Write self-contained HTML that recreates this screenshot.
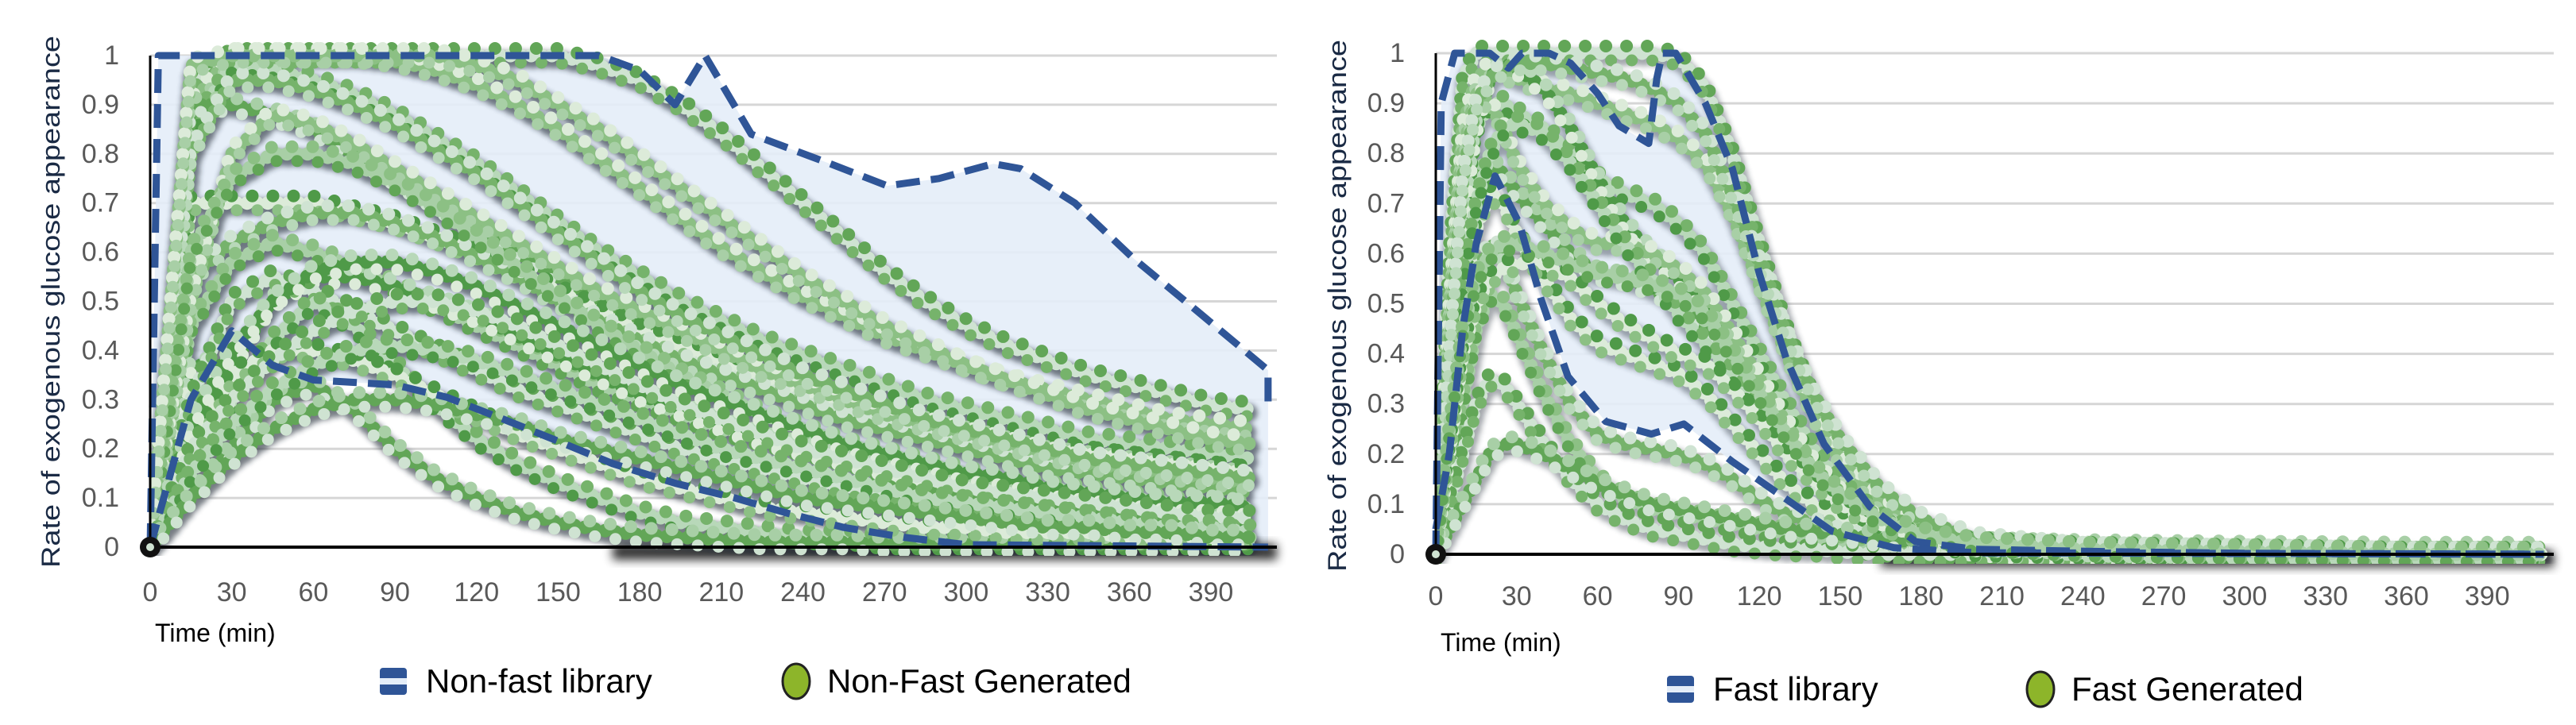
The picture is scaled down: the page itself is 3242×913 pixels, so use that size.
<!DOCTYPE html>
<html><head><meta charset="utf-8"><style>
html,body{margin:0;padding:0;background:#fff;}
svg{display:block;}
text{font-family:"Liberation Sans Narrow","Liberation Sans",sans-serif;}
</style></head><body>
<svg id="root" width="3242" height="913" viewBox="0 0 3242 913" xmlns="http://www.w3.org/2000/svg">
<defs>
<filter id="blur" x="-5%" y="-5%" width="110%" height="110%"><feGaussianBlur stdDeviation="3.5"/></filter>
<filter id="blur2" x="-5%" y="-50%" width="110%" height="200%"><feGaussianBlur stdDeviation="6"/></filter>
<clipPath id="clipL"><rect x="189" y="40" width="1420" height="660"/></clipPath>
<clipPath id="clipR"><rect x="1807" y="40" width="1410" height="670"/></clipPath>
</defs>
<g id="left"></g>
<g id="right"></g>
</svg>
<script>
// ---------- DATA ----------
const yTicks = [0,0.1,0.2,0.3,0.4,0.5,0.6,0.7,0.8,0.9,1];
const yTickLabels = ["0","0.1","0.2","0.3","0.4","0.5","0.6","0.7","0.8","0.9","1"];
const xTicks = [0,30,60,90,120,150,180,210,240,270,300,330,360,390];
const xTickLabels = ["0","30","60","90","120","150","180","210","240","270","300","330","360","390"];

// Non-fast library envelope
const nfUpperT = [0,3,20,165,180,193,204,221,250,271,290,310,320,340,361,385,411,411];
const nfUpperV = [0,1,1,1,0.97,0.9,1,0.84,0.78,0.735,0.75,0.78,0.77,0.7,0.59,0.48,0.36,0.28];
const nfLowerT = [0,5,15,30,45,60,90,109,130,148,170,193,215,235,255,277,300,411];
const nfLowerV = [0,0.1,0.3,0.44,0.37,0.34,0.33,0.305,0.26,0.22,0.17,0.13,0.1,0.068,0.04,0.02,0.005,0];

// Non-fast generated curves (values at nfTimes)
const nfTimes = [0,15,30,45,60,75,90,105,120,135,150,165,180,195,210,225,240,255,270,285,300,315,330,345,360,375,390,405];
const nfA = [0,0.95,1,1,1,1,1,1,1,1,1,0.98,0.95,0.9,0.84,0.77,0.7,0.63,0.56,0.5,0.45,0.41,0.38,0.35,0.33,0.31,0.29,0.28];
const nfB = [0,0.9,1,1,1,1,0.99,0.97,0.94,0.9,0.85,0.79,0.73,0.67,0.61,0.56,0.51,0.47,0.43,0.4,0.37,0.34,0.32,0.3,0.28,0.26,0.25,0.24];
const nfC = [0,0.85,0.98,0.97,0.95,0.92,0.88,0.83,0.78,0.72,0.66,0.6,0.55,0.5,0.46,0.42,0.39,0.36,0.33,0.3,0.28,0.26,0.24,0.22,0.21,0.2,0.19,0.18];
const nfD = [0,0.9,0.9,0.88,0.85,0.8,0.75,0.7,0.65,0.6,0.55,0.5,0.46,0.42,0.38,0.35,0.32,0.29,0.27,0.25,0.23,0.21,0.19,0.18,0.17,0.16,0.15,0.14];
const nfE = [0,0.7,0.7,0.7,0.7,0.68,0.66,0.63,0.6,0.56,0.52,0.48,0.44,0.41,0.38,0.35,0.32,0.3,0.28,0.26,0.24,0.22,0.2,0.19,0.18,0.17,0.16,0.15];
const nfF = [0,0.55,0.62,0.66,0.68,0.68,0.66,0.63,0.59,0.55,0.5,0.46,0.42,0.38,0.35,0.32,0.29,0.26,0.24,0.22,0.2,0.18,0.16,0.15,0.14,0.13,0.12,0.11];
const nfG = [0,0.45,0.58,0.62,0.6,0.57,0.53,0.49,0.45,0.41,0.37,0.33,0.3,0.27,0.24,0.22,0.2,0.18,0.16,0.14,0.13,0.12,0.11,0.1,0.09,0.08,0.08,0.07];
const nfH = [0,0.37,0.37,0.5,0.55,0.55,0.53,0.5,0.47,0.43,0.39,0.35,0.31,0.28,0.25,0.22,0.2,0.18,0.16,0.14,0.12,0.11,0.1,0.09,0.08,0.07,0.06,0.06];
const nfI = [0,0.3,0.5,0.55,0.52,0.48,0.44,0.4,0.36,0.32,0.29,0.26,0.23,0.2,0.18,0.16,0.14,0.12,0.11,0.1,0.09,0.08,0.07,0.06,0.05,0.05,0.04,0.04];
const nfJ = [0,0.5,0.8,0.88,0.86,0.82,0.77,0.72,0.67,0.62,0.57,0.52,0.48,0.44,0.4,0.36,0.33,0.3,0.27,0.25,0.23,0.21,0.19,0.17,0.16,0.15,0.14,0.13];
const nfK = [0,0.15,0.3,0.42,0.5,0.45,0.37,0.29,0.22,0.17,0.13,0.1,0.07,0.05,0.04,0.03,0.02,0.02,0.01,0.01,0.01,0.01,0.01,0.01,0.01,0.01,0.01,0.01];
const nfL = [0,0.1,0.2,0.3,0.33,0.28,0.2,0.14,0.1,0.07,0.05,0.035,0.025,0.02,0.015,0.01,0.01,0.01,0.005,0.005,0.005,0.005,0.005,0.005,0.005,0.005,0.005,0.005];
const nfM = [0,0.2,0.35,0.4,0.4,0.38,0.35,0.31,0.27,0.23,0.2,0.17,0.14,0.12,0.1,0.08,0.07,0.06,0.05,0.04,0.04,0.03,0.03,0.03,0.02,0.02,0.02,0.02];
const nfN = [0,0.8,0.95,0.95,0.93,0.9,0.86,0.81,0.76,0.7,0.64,0.58,0.52,0.47,0.43,0.39,0.35,0.32,0.29,0.26,0.24,0.22,0.2,0.18,0.17,0.16,0.15,0.14];
const nfO = [0,0.6,0.75,0.8,0.8,0.78,0.74,0.69,0.63,0.57,0.51,0.45,0.4,0.35,0.31,0.27,0.24,0.21,0.19,0.17,0.15,0.13,0.12,0.11,0.1,0.09,0.08,0.08];
const nfP = [0,0.25,0.4,0.5,0.56,0.58,0.58,0.56,0.53,0.49,0.45,0.41,0.37,0.33,0.3,0.27,0.24,0.21,0.19,0.17,0.15,0.14,0.12,0.11,0.1,0.09,0.09,0.08];
const nfQ = [0,0.2,0.3,0.38,0.44,0.48,0.5,0.5,0.48,0.45,0.41,0.37,0.33,0.29,0.26,0.23,0.2,0.18,0.16,0.14,0.12,0.11,0.1,0.09,0.08,0.07,0.06,0.06];
const nfR = [0,0.98,1,1,1,1,1,1,0.98,0.95,0.9,0.85,0.79,0.73,0.67,0.61,0.55,0.5,0.45,0.41,0.37,0.34,0.31,0.28,0.26,0.24,0.22,0.21];
const nfS = [0,0.15,0.25,0.32,0.37,0.4,0.41,0.4,0.38,0.35,0.32,0.29,0.26,0.23,0.2,0.18,0.16,0.14,0.12,0.1,0.09,0.08,0.07,0.06,0.05,0.04,0.04,0.03];
const nfT = [0,0.1,0.18,0.24,0.28,0.3,0.3,0.29,0.27,0.25,0.22,0.2,0.18,0.16,0.14,0.12,0.1,0.09,0.08,0.07,0.06,0.05,0.04,0.04,0.03,0.03,0.02,0.02];

// Fast library envelope
const fUpperT = [0,2,7,20,27,32,42,50,60,68,79,82,84,89,100,110,120,130,144,161,178,200,250,300,411];
const fUpperV = [0,0.9,1,1,0.97,1,1,0.98,0.92,0.855,0.82,0.95,1,1,0.9,0.77,0.56,0.39,0.22,0.095,0.025,0.01,0.005,0.002,0];
const fLowerT = [0,5,10,15,22,31,39,49,63,80,92,110,130,147,170,200,411];
const fLowerV = [0.05,0.2,0.45,0.62,0.755,0.66,0.51,0.355,0.265,0.24,0.26,0.185,0.11,0.046,0.013,0.003,0];

// Fast generated curves (values at fTimes)
const fTimes = [0,5,10,15,20,25,30,40,50,60,70,80,90,100,110,120,130,140,150,165,180,200,240,300,360,410];
const fR1 = [0,0.6,0.95,1,1,1,1,1,1,1,1,1,0.99,0.93,0.8,0.62,0.45,0.31,0.2,0.1,0.05,0.02,0.01,0.005,0,0];
const fR2 = [0,0.5,0.85,0.95,0.97,0.96,0.95,0.93,0.92,0.9,0.88,0.86,0.83,0.78,0.68,0.54,0.4,0.28,0.19,0.1,0.05,0.02,0.01,0.005,0,0];
const fR3 = [0,0.4,0.7,0.85,0.9,0.9,0.88,0.85,0.8,0.75,0.72,0.7,0.66,0.6,0.5,0.4,0.3,0.21,0.14,0.07,0.035,0.015,0.005,0,0,0];
const fR4 = [0,0.3,0.6,0.75,0.78,0.76,0.72,0.66,0.6,0.56,0.55,0.53,0.5,0.45,0.37,0.29,0.21,0.15,0.1,0.05,0.025,0.01,0,0,0,0];
const fR5 = [0,0.25,0.5,0.65,0.72,0.7,0.64,0.55,0.47,0.42,0.4,0.38,0.36,0.32,0.26,0.2,0.14,0.1,0.07,0.04,0.02,0.01,0,0,0,0];
const fR6 = [0,0.2,0.4,0.55,0.62,0.6,0.52,0.4,0.3,0.24,0.22,0.21,0.2,0.18,0.15,0.11,0.08,0.06,0.04,0.02,0.01,0,0,0,0,0];
const fR7 = [0,0.15,0.3,0.45,0.52,0.5,0.44,0.32,0.22,0.15,0.11,0.09,0.08,0.07,0.06,0.05,0.04,0.03,0.02,0.01,0.005,0,0,0,0,0];
const fR8 = [0,0.35,0.65,0.85,0.95,0.98,0.97,0.93,0.85,0.75,0.66,0.6,0.55,0.5,0.42,0.33,0.24,0.17,0.11,0.06,0.03,0.01,0,0,0,0];
const fR9 = [0,0.1,0.2,0.3,0.35,0.34,0.3,0.22,0.15,0.1,0.07,0.05,0.04,0.03,0.02,0.015,0.01,0.01,0.005,0,0,0,0,0,0,0];
const fR10 = [0,0.45,0.8,0.92,0.9,0.85,0.78,0.7,0.65,0.62,0.62,0.6,0.57,0.52,0.44,0.35,0.26,0.18,0.12,0.06,0.03,0.01,0,0,0,0];
const fR11 = [0,0.3,0.55,0.7,0.8,0.85,0.86,0.84,0.78,0.7,0.62,0.55,0.48,0.42,0.36,0.29,0.22,0.16,0.11,0.06,0.03,0.01,0.005,0,0,0];
const fR12 = [0,0.05,0.1,0.15,0.2,0.22,0.22,0.2,0.17,0.14,0.12,0.1,0.09,0.08,0.07,0.06,0.05,0.045,0.04,0.03,0.025,0.02,0.015,0.012,0.01,0.01];
const fR13 = [0,0.2,0.4,0.5,0.55,0.57,0.58,0.58,0.55,0.5,0.46,0.43,0.4,0.38,0.33,0.27,0.2,0.15,0.1,0.06,0.035,0.02,0.01,0.005,0,0];
const fR14 = [0,0.4,0.75,0.9,0.95,0.97,0.98,0.98,0.97,0.96,0.95,0.93,0.9,0.84,0.72,0.58,0.44,0.32,0.23,0.13,0.07,0.03,0.01,0.005,0,0];
const fR15 = [0,0.25,0.45,0.55,0.6,0.62,0.62,0.6,0.58,0.56,0.55,0.54,0.52,0.48,0.4,0.32,0.24,0.17,0.12,0.07,0.04,0.02,0.01,0.005,0,0];

// ---------- DRAWING ----------
const NS = "http://www.w3.org/2000/svg";
function mk(parent, tag, attrs, txt){
  const e = document.createElementNS(NS, tag);
  for (const k in attrs) e.setAttribute(k, attrs[k]);
  if (txt !== undefined) e.textContent = txt;
  parent.appendChild(e);
  return e;
}
const dotColors = ["#cfe3d2","#8cc084","#b8d8b9","#62a657","#dcebd9","#76b36b","#a8cfa6","#4f9a48"];

function drawChart(cfg){
  const g = document.getElementById(cfg.id);
  const xs = t => cfg.x0 + t * cfg.pxPerMin;
  const ys = v => cfg.y0 - v * cfg.pxPerUnit;
  const pts = (T,V) => T.map((t,i)=> xs(t).toFixed(1)+","+ys(V[i]).toFixed(1)).join(" ");

  yTicks.forEach((v,i)=>{
    if (v===0) return;
    const l = mk(g,"line",{x1:cfg.x0,x2:cfg.xEnd,y1:ys(v),y2:ys(v),stroke:"#d6d6d6","stroke-width":3});
    
    
  });
  const polyPts = pts(cfg.upT,cfg.upV) + " " + cfg.loT.map((t,i)=>[t,cfg.loV[i]]).reverse().map(p=>xs(p[0]).toFixed(1)+","+ys(p[1]).toFixed(1)).join(" ");
  const fill = mk(g,"polygon",{points:polyPts,fill:"#e4edf8",opacity:0.9});
  
  

  const sb = mk(g,"rect",{x:xs(cfg.shadowFrom),y:cfg.y0-4,width:cfg.xEnd-xs(cfg.shadowFrom),height:20,fill:"#000",opacity:0.8,filter:"url(#blur2)"});
  
  

  const dg = mk(g,"g",{"clip-path":cfg.clip});
  
  
  const shg = mk(dg,"g",{filter:"url(#blur)",opacity:cfg.shadowOp,transform:"translate(2,5)"});
  
  
  cfg.curves.forEach((V,ci)=>{
    const sh = mk(shg,"polyline",{points:pts(cfg.times,V),fill:"none",stroke:"#1c2732","stroke-width":cfg.dotSize+6,"stroke-linecap":"round","stroke-linejoin":"round","stroke-dasharray":"0 "+cfg.spacing});
    
    
  });
  cfg.curves.forEach((V,ci)=>{
    const p = pts(cfg.times,V);
    const c1 = mk(dg,"polyline",{points:p,fill:"none",stroke:dotColors[ci%dotColors.length],"stroke-width":cfg.dotSize,"stroke-linecap":"round","stroke-linejoin":"round","stroke-dasharray":"0 "+cfg.spacing});
    
    
    const c2 = mk(dg,"polyline",{points:p,fill:"none",stroke:dotColors[(ci+3)%dotColors.length],"stroke-width":cfg.dotSize-1,"stroke-linecap":"round","stroke-linejoin":"round","stroke-dasharray":"0 "+(cfg.spacing*2),"stroke-dashoffset":cfg.spacing/2,transform:"translate(0,-9)"});
    
    
    const c3 = mk(dg,"polyline",{points:p,fill:"none",stroke:dotColors[(ci+5)%dotColors.length],"stroke-width":cfg.dotSize-2,"stroke-linecap":"round","stroke-linejoin":"round","stroke-dasharray":"0 "+(cfg.spacing*2),transform:"translate(0,9)"});
    
    
  });

  [[cfg.upT,cfg.upV,'library-upper-bound'],[cfg.loT,cfg.loV,'library-lower-bound']].forEach(d=>{
    const l = mk(g,"polyline",{points:pts(d[0],d[1]),fill:"none",stroke:"#2f5597","stroke-width":9,"stroke-dasharray":"30 14","stroke-linejoin":"round"});
    
    
  });

  const ax = mk(g,"line",{x1:cfg.x0,x2:cfg.xEnd,y1:cfg.y0,y2:cfg.y0,stroke:"#000","stroke-width":4});
  
  
  const ay = mk(g,"line",{x1:cfg.x0,x2:cfg.x0,y1:ys(1),y2:cfg.y0,stroke:"#000","stroke-width":3});
  
  
  const og = mk(g,"circle",{cx:cfg.x0,cy:cfg.y0,r:13,fill:"#111"});
  
  
  mk(g,"circle",{cx:cfg.x0,cy:cfg.y0,r:5,fill:"#cfe3d2"});

  yTicks.forEach((v,i)=>{
    const t = mk(g,"text",{x:cfg.yLabelX,y:ys(v)+11,"text-anchor":"end","font-size":34,fill:"#595959"},yTickLabels[i]);
    
    
  });
  xTicks.forEach((v,i)=>{
    const t = mk(g,"text",{x:xs(v),y:cfg.xLabelY,"text-anchor":"middle","font-size":34,fill:"#595959"},xTickLabels[i]);
    
    
  });
  const xt = mk(g,"text",{x:cfg.x0+6,y:cfg.xTitleY,"font-size":32,fill:"#000"},"Time (min)");
  
  
  const yt = mk(g,"text",{x:0,y:0,"font-size":32,fill:"#1a2a44","text-anchor":"middle",textLength:670,lengthAdjust:"spacingAndGlyphs",transform:`translate(${cfg.yTitleX},${cfg.yTitleY}) rotate(-90)`,style:"font-family:'Liberation Sans',sans-serif"},"Rate of exogenous glucose appearance");
  
  

  const lg = mk(g,"g",{});
  
  
  const li = mk(lg,"g",{});
  
  
  mk(li,"rect",{x:cfg.leg1X,y:cfg.legY-17,width:34,height:34,rx:4,fill:"#2f5597"});
  mk(li,"rect",{x:cfg.leg1X,y:cfg.legY-4,width:34,height:8,fill:"#e4edf8"});
  const lt1 = mk(lg,"text",{x:cfg.leg1X+58,y:cfg.legY+14,"font-size":42,fill:"#000"},cfg.leg1Text);
  
  
  const gi = mk(lg,"ellipse",{cx:cfg.leg2X+17,cy:cfg.legY,rx:17,ry:22,fill:"#8db52a",stroke:"#222","stroke-width":3});
  
  
  const lt2 = mk(lg,"text",{x:cfg.leg2X+56,y:cfg.legY+14,"font-size":42,fill:"#000"},cfg.leg2Text);
  
  
}

drawChart({id:"left",x0:189,xEnd:1607,y0:689,pxPerMin:3.423,pxPerUnit:619,
  upT:nfUpperT,upV:nfUpperV,loT:nfLowerT,loV:nfLowerV,times:nfTimes,
  curves:[nfA,nfB,nfC,nfD,nfE,nfF,nfG,nfH,nfI,nfJ,nfK,nfL,nfM,nfN,nfO,nfP,nfQ,nfR,nfS,nfT],
  clip:"url(#clipL)",spacing:13,dotSize:17,shadowOp:0.6,shadowFrom:170,
  yLabelX:150,xLabelY:757,xTitleY:808,yTitleX:75,yTitleY:380,
  leg1X:478,leg1Text:"Non-fast library",leg2X:985,leg2Text:"Non-Fast Generated",legY:858});
drawChart({id:"right",x0:1807,xEnd:3214,y0:698,pxPerMin:3.393,pxPerUnit:631,
  upT:fUpperT,upV:fUpperV,loT:fLowerT,loV:fLowerV,times:fTimes,
  curves:[fR1,fR2,fR3,fR4,fR5,fR6,fR7,fR8,fR9,fR10,fR11,fR12,fR13,fR14,fR15],
  clip:"url(#clipR)",spacing:13,dotSize:17,shadowOp:0.4,shadowFrom:165,
  yLabelX:1768,xLabelY:762,xTitleY:820,yTitleX:1694,yTitleY:385,
  leg1X:2098,leg1Text:"Fast library",leg2X:2551,leg2Text:"Fast Generated",legY:868});
</script>
</body></html>
